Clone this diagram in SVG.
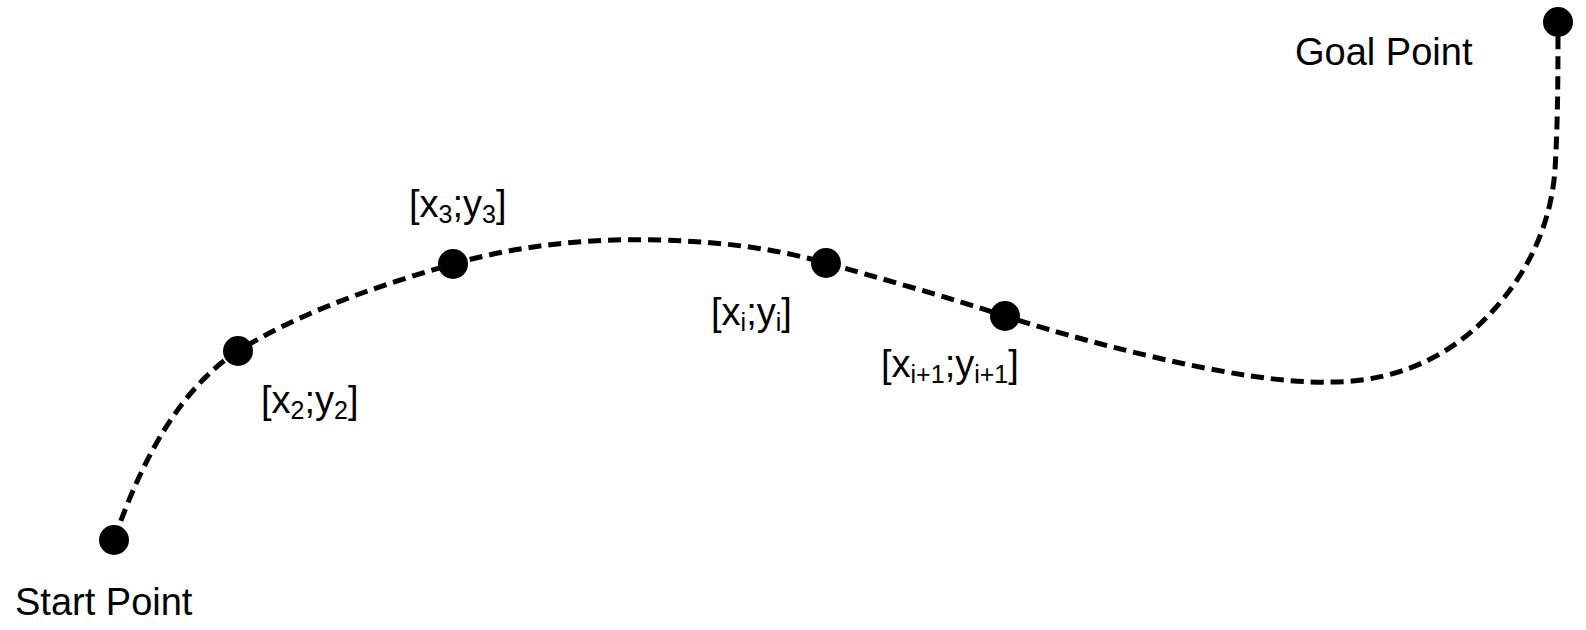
<svg xmlns="http://www.w3.org/2000/svg" width="1586" height="630" viewBox="0 0 1586 630">
<style>
  .path { fill: none; stroke: #000; stroke-width: 5; stroke-dasharray: 13 7; }
  .dot { fill: #000; }
  .lbl { font-family: "Liberation Sans", Arial, sans-serif; font-size: 38px; fill: #000; }
  .sub { font-size: 25px; }
</style>
<rect width="1586" height="630" fill="#fff"/>
<g id="connectors">
  <path class="path" d="M114,540 C145,450 185,385 238,351 C300,312 380,285 453,264 C520,245 590,238 660,240 C730,242 780,250 826,263 C880,278 950,298 1005,316 C1065,336 1240,385 1330,382 C1410,382 1460,345 1487,317 C1520,283 1550,235 1555,170 C1558,120 1558,70 1558,22"/>
</g>
<g id="start">
  <circle class="dot" cx="114" cy="540" r="15"/>
  <text class="lbl" x="15" y="615">Start Point</text>
</g>
<g id="p2">
  <circle class="dot" cx="238" cy="351" r="15"/>
  <text class="lbl" x="261" y="413">[x<tspan class="sub" dy="6">2</tspan><tspan dy="-6">;y</tspan><tspan class="sub" dy="6">2</tspan><tspan dy="-6">]</tspan></text>
</g>
<g id="p3">
  <circle class="dot" cx="453" cy="264" r="15"/>
  <text class="lbl" x="409" y="217">[x<tspan class="sub" dy="6">3</tspan><tspan dy="-6">;y</tspan><tspan class="sub" dy="6">3</tspan><tspan dy="-6">]</tspan></text>
</g>
<g id="pi">
  <circle class="dot" cx="826" cy="263" r="15"/>
  <text class="lbl" x="711" y="325">[x<tspan class="sub" dy="6">i</tspan><tspan dy="-6">;y</tspan><tspan class="sub" dy="6">i</tspan><tspan dy="-6">]</tspan></text>
</g>
<g id="pi1">
  <circle class="dot" cx="1005" cy="316" r="15"/>
  <text class="lbl" x="881" y="377">[x<tspan class="sub" dy="6">i+1</tspan><tspan dy="-6">;y</tspan><tspan class="sub" dy="6">i+1</tspan><tspan dy="-6">]</tspan></text>
</g>
<g id="goal">
  <circle class="dot" cx="1558" cy="22" r="15"/>
  <text class="lbl" x="1295" y="65">Goal Point</text>
</g>
</svg>
